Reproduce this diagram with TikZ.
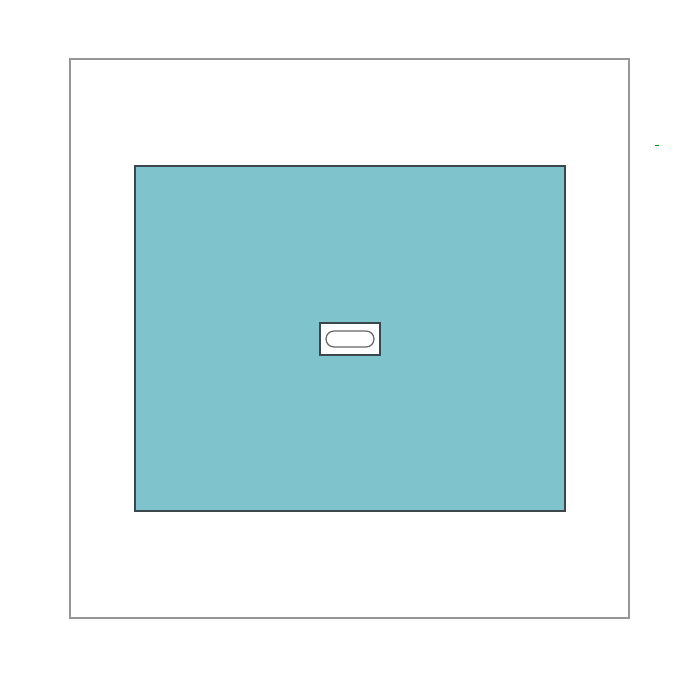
\documentclass[tikz,border=0pt]{standalone}
\usepackage{tikz}
\usetikzlibrary{positioning}
\usetikzlibrary{calc}

\definecolor{tealfill}{RGB}{127,196,205}
\definecolor{darkedge}{RGB}{58,72,78}
\definecolor{frame}{RGB}{150,150,150}

\begin{document}
\begin{tikzpicture}[x=0.02cm,y=-0.02cm]

% page size
\useasboundingbox (0,0) rectangle (700,700);

% outer frame
\draw[frame, line width=1pt] (70,59) rectangle (629,618);

% inner panel
\draw[darkedge, fill=tealfill, line width=0.6pt] (135,166) rectangle (565,511);

% small plate
\draw[darkedge, fill=white, line width=0.8pt] (320,323) rectangle (380,355);
% slot
\draw[gray!80!black, fill=white, line width=0.7pt, rounded corners=0.159cm]
	(326,331) rectangle (374,347);

% tick mark
\draw[green!60!black, line width=0.5pt] (655,145) -- (659,145);

\end{tikzpicture}
\end{document}
